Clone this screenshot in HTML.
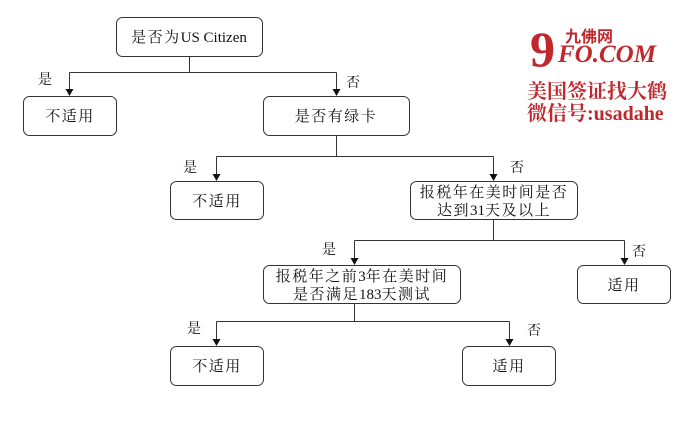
<!DOCTYPE html>
<html><head><meta charset="utf-8"><style>
html,body{margin:0;padding:0;background:#fff;width:689px;height:433px;overflow:hidden}
svg text{font-family:"Liberation Serif","Noto Serif CJK SC",serif;fill:#111}
tspan.l{letter-spacing:0}
</style></head><body>
<svg width="689" height="433" viewBox="0 0 689 433" xmlns="http://www.w3.org/2000/svg">
<g fill="none" stroke="#333" stroke-width="1">
<rect x="116.5" y="17.5" width="146" height="39" rx="6"/>
<rect x="23.5" y="96.5" width="93" height="39" rx="6"/>
<rect x="263.5" y="96.5" width="146" height="39" rx="6"/>
<rect x="170.5" y="181.5" width="93" height="38" rx="6"/>
<rect x="410.5" y="181.5" width="167" height="38" rx="6"/>
<rect x="263.5" y="265.5" width="197" height="38" rx="6"/>
<rect x="577.5" y="265.5" width="93" height="38" rx="6"/>
<rect x="170.5" y="346.5" width="93" height="39" rx="6"/>
<rect x="462.5" y="346.5" width="93" height="39" rx="6"/>
<path d="M189.5 57 V72.5 M69.5 72.5 H336.5 M69.5 72.5 V90 M336.5 72.5 V90"/>
<path d="M336.5 136 V156.5 M216.5 156.5 H493.5 M216.5 156.5 V175 M493.5 156.5 V175"/>
<path d="M493.5 220 V240.5 M354.5 240.5 H624.5 M354.5 240.5 V259 M624.5 240.5 V259"/>
<path d="M354.5 304 V321.5 M216.5 321.5 H509.5 M216.5 321.5 V340 M509.5 321.5 V340"/>
</g>
<g fill="#111">
<polygon points="65.5,89 73.5,89 69.5,96"/><polygon points="332.5,89 340.5,89 336.5,96"/>
<polygon points="212.5,174 220.5,174 216.5,181"/><polygon points="489.5,174 497.5,174 493.5,181"/>
<polygon points="350.5,258 358.5,258 354.5,265"/><polygon points="620.5,258 628.5,258 624.5,265"/>
<polygon points="212.5,339 220.5,339 216.5,346"/><polygon points="505.5,339 513.5,339 509.5,346"/>
</g>
<g font-size="15" text-anchor="middle" letter-spacing="1.5">
<text x="189" y="42">是否为<tspan class="l">US Citizen</tspan></text>
<text x="70" y="121">不适用</text>
<text x="336" y="121">是否有绿卡</text>
<text x="217" y="206">不适用</text>
<text x="494" y="197">报税年在美时间是否</text>
<text x="494" y="215">达到<tspan class="l">31</tspan>天及以上</text>
<text x="362" y="281">报税年之前<tspan class="l">3</tspan>年在美时间</text>
<text x="362" y="299">是否满足<tspan class="l">183</tspan>天测试</text>
<text x="624" y="290">适用</text>
<text x="217" y="371">不适用</text>
<text x="509" y="371">适用</text>
</g>
<g font-size="14">
<text x="38" y="84">是</text><text x="346" y="87">否</text>
<text x="183" y="172">是</text><text x="510" y="172">否</text>
<text x="322" y="254">是</text><text x="632" y="256">否</text>
<text x="187" y="333">是</text><text x="527" y="335">否</text>
</g>
<text x="530" y="66" font-size="50" font-weight="bold" style="fill:#c0282d;font-family:'Liberation Serif',serif">9</text>
<text x="565" y="42" font-size="16" font-weight="bold" style="fill:#c0282d;font-family:'Liberation Sans','Noto Sans CJK SC',sans-serif">九佛网</text>
<text x="558" y="62" font-size="25" font-weight="bold" font-style="italic" style="fill:#c0282d;font-family:'Liberation Serif',serif">FO.COM</text>
<text x="527" y="98" font-size="20" font-weight="bold" style="fill:#c0282d;font-family:'Liberation Serif','Noto Serif CJK SC',serif">美国签证找大鹤</text>
<text x="527" y="120" font-size="20" font-weight="bold" style="fill:#c0282d;font-family:'Liberation Serif','Noto Serif CJK SC',serif">微信号:usadahe</text>
</svg>
</body></html>
